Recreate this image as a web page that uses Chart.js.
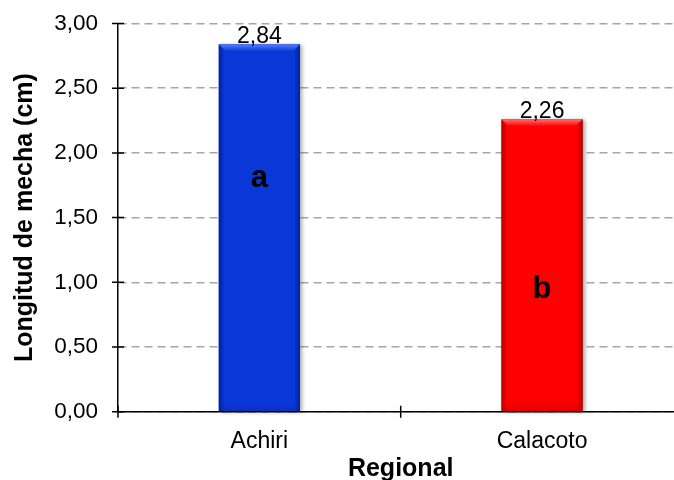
<!DOCTYPE html>
<html>
<head>
<meta charset="utf-8">
<script src="https://cdn.jsdelivr.net/npm/chart.js@4.4.1/dist/chart.umd.min.js"></script>
<style>
  html, body { margin: 0; padding: 0; background: #fff; overflow: hidden; }
  #wrap { width: 674px; height: 480px; overflow: hidden; position: relative; }
  canvas { display: block; }
</style>
</head>
<body>
<div id="wrap"><canvas id="chart" width="690" height="480"></canvas></div>
<script>
// Mean fleece staple length per region
const regions = ['Achiri', 'Calacoto'];
const longitud = [2.84, 2.26];
const groupLetters = ['a', 'b'];
const yTickLabels = ['0,00', '0,50', '1,00', '1,50', '2,00', '2,50', '3,00'];

const FONT = "'Liberation Sans', Arial, Helvetica, sans-serif";

// Bar shading: flat face, darker side edges, lighter bevel on top
const palettes = [
  { base: '#0a38d8', edge: '#00209a', light: '#5a80f5' },
  { base: '#ff0000', edge: '#b80000', light: '#ff7070' }
];

// Where the significance letters sit inside each bar (axis units, text baseline)
const letterBaseline = [1.735, 0.88];

const barStyle = {
  id: 'barStyle',
  afterDatasetsDraw(chart) {
    const ctx = chart.ctx;
    const meta = chart.getDatasetMeta(0);
    const yScale = chart.scales.y;
    meta.data.forEach((bar, i) => {
      const { x, y, width, base } = bar.getProps(['x', 'y', 'width', 'base'], true);
      const l = x - width / 2, r = x + width / 2, t = y, b = base;
      const pal = palettes[i];

      // face with soft drop shadow
      ctx.save();
      ctx.shadowColor = 'rgba(0,0,0,0.35)';
      ctx.shadowBlur = 4;
      ctx.shadowOffsetX = 2;
      ctx.shadowOffsetY = 1;
      const g = ctx.createLinearGradient(l, 0, r, 0);
      g.addColorStop(0, pal.edge);
      g.addColorStop(0.07, pal.base);
      g.addColorStop(0.93, pal.base);
      g.addColorStop(1, pal.edge);
      ctx.fillStyle = g;
      ctx.fillRect(l, t, width, b - t);
      ctx.restore();

      // top bevel
      const bev = 7;
      ctx.save();
      ctx.beginPath();
      ctx.moveTo(l, t);
      ctx.lineTo(r, t);
      ctx.lineTo(r - bev, t + bev);
      ctx.lineTo(l + bev, t + bev);
      ctx.closePath();
      const gb = ctx.createLinearGradient(0, t, 0, t + bev);
      gb.addColorStop(0, pal.light);
      gb.addColorStop(1, pal.base);
      ctx.fillStyle = gb;
      ctx.fill();

      // bottom shade
      const gd = ctx.createLinearGradient(0, b - 8, 0, b);
      gd.addColorStop(0, 'rgba(0,0,0,0)');
      gd.addColorStop(1, 'rgba(0,0,0,0.12)');
      ctx.fillStyle = gd;
      ctx.fillRect(l + 3, b - 8, width - 6, 8);
      ctx.restore();

      // value label above bar
      ctx.save();
      ctx.fillStyle = '#000';
      ctx.font = '23px ' + FONT;
      ctx.textAlign = 'center';
      ctx.textBaseline = 'alphabetic';
      ctx.fillText(longitud[i].toFixed(2).replace('.', ','), x, t - 1.5);

      // significance letter
      ctx.font = 'bold 31px ' + FONT;
      ctx.fillText(groupLetters[i], x, yScale.getPixelForValue(letterBaseline[i]));
      ctx.restore();
    });
  },
  afterDraw(chart) {
    // cross-style tick marks on both axes
    const ctx = chart.ctx;
    const xs = chart.scales.x, ys = chart.scales.y;
    const area = chart.chartArea;
    ctx.save();
    ctx.strokeStyle = '#000';
    ctx.lineWidth = 1.5;
    ctx.beginPath();
    ys.ticks.forEach(tk => {
      const py = ys.getPixelForValue(tk.value);
      ctx.moveTo(area.left - 6, py);
      ctx.lineTo(area.left + 6, py);
    });
    const n = regions.length;
    for (let i = 0; i <= n; i++) {
      const px = xs.left + i * (xs.width / n);
      ctx.moveTo(px, area.bottom - 6);
      ctx.lineTo(px, area.bottom + 6);
    }
    ctx.stroke();
    ctx.restore();
  }
};

Chart.defaults.font.family = FONT;
Chart.defaults.color = '#000';

new Chart(document.getElementById('chart'), {
  type: 'bar',
  data: {
    labels: regions,
    datasets: [{
      data: longitud,
      backgroundColor: palettes.map(p => p.base),
      borderWidth: 0,
      categoryPercentage: 1,
      barPercentage: 0.287
    }]
  },
  options: {
    responsive: false,
    devicePixelRatio: 1,
    animation: false,
    layout: { padding: { top: 23.5, right: 6.6, bottom: -4, left: 0 } },
    plugins: { legend: { display: false }, tooltip: { enabled: false } },
    scales: {
      x: {
        afterFit: s => { s.height = 72.3; s.paddingLeft = 0; s.paddingRight = 0; },
        grid: { display: false, drawTicks: false },
        border: { display: true, color: '#000', width: 1.5, z: 1 },
        ticks: { padding: 16, font: { size: 23 }, color: '#000' },
        title: {
          display: true, text: 'Regional', color: '#000',
          font: { size: 25, weight: 'bold' }, padding: { top: 0, bottom: 0 }
        }
      },
      y: {
        min: 0, max: 3,
        afterFit: s => { s.width = 118; s.paddingTop = 0; s.paddingBottom = 0; },
        grid: { color: '#a6a6a6', lineWidth: 1.4, drawTicks: false },
        border: { display: true, color: '#000', width: 1.5, dash: [8, 5], z: 1 },
        ticks: {
          stepSize: 0.5, padding: 20, font: { size: 22.5 }, color: '#000',
          callback: (v, i) => yTickLabels[i]
        },
        title: {
          display: true, text: 'Longitud de mecha (cm)', color: '#000',
          font: { size: 25, weight: 'bold' }, padding: { top: 10, bottom: 0 }
        }
      }
    }
  },
  plugins: [barStyle]
});
</script>
</body>
</html>
